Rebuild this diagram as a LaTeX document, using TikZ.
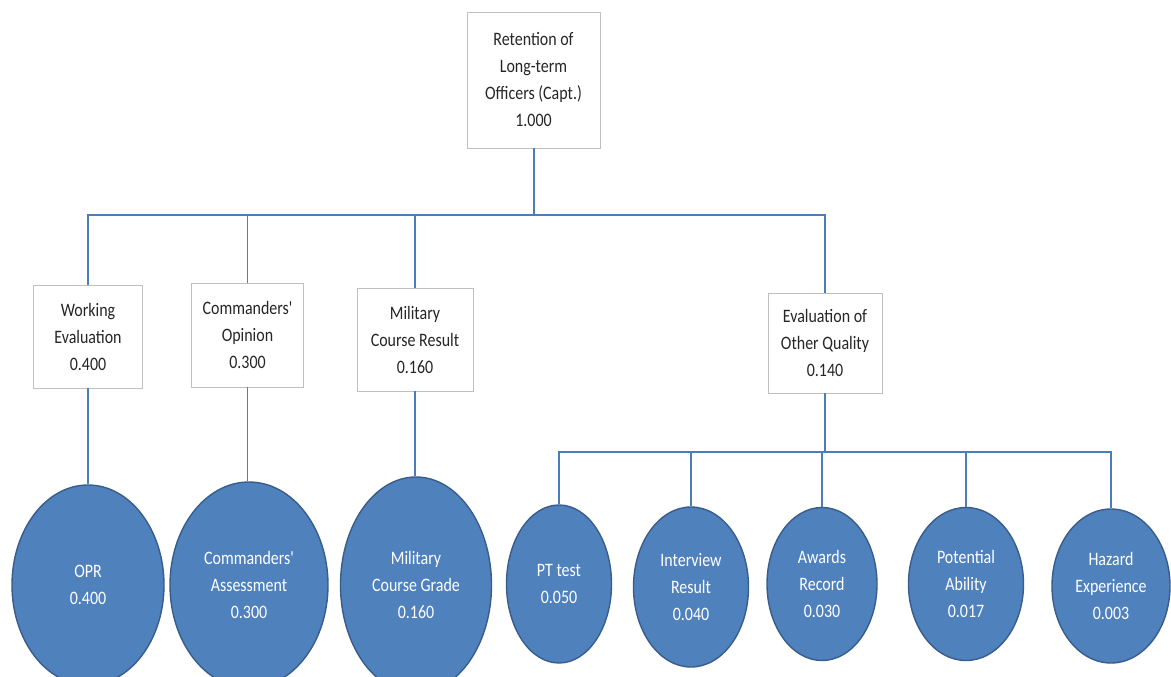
\documentclass[tikz,border=0pt]{standalone}
\usepackage{fontspec}
\setmainfont{Carlito}[FakeStretch=0.84, Ligatures=TeXOff]
\usetikzlibrary{shapes.geometric}
\definecolor{boxline}{HTML}{BFBFBF}
\definecolor{conn}{HTML}{4A7EBB}
\definecolor{cfill}{HTML}{4F81BD}
\definecolor{cline}{HTML}{385D8A}
\definecolor{txt}{HTML}{262626}
\tikzset{
  lbox/.style={draw=boxline, line width=0.9pt, fill=white, align=center, text=txt,
    font=\fontsize{19}{27}\selectfont, inner sep=0pt},
  bubble/.style={ellipse, draw=cline, line width=1.4pt, fill=cfill, align=center, text=white,
    font=\fontsize{19}{27}\selectfont, inner sep=0pt},
  bus/.style={draw=conn, line width=2pt},
  link/.style={draw=conn, line width=1.2pt}
}
\begin{document}
\begin{tikzpicture}[x=1pt,y=-1pt]
\useasboundingbox (0,0) rectangle (1171,677);
\clip (0,0) rectangle (1171,677);
\fill[white] (0,0) rectangle (1171,677);

% root
\node[lbox, minimum width=133pt, minimum height=136pt] (root) at (533.5,80) {Retention of\\Long-term\\Officers (Capt.)\\1.000};

% level 2
\node[lbox, minimum width=109pt, minimum height=103pt] (we) at (88,336.5) {Working\\Evaluation\\0.400};
\node[lbox, minimum width=112pt, minimum height=104pt] (co) at (247.5,335) {Commanders'\\Opinion\\0.300};
\node[lbox, minimum width=116pt, minimum height=103pt] (mc) at (415,339.5) {Military\\Course Result\\0.160};
\node[lbox, minimum width=114pt, minimum height=100pt] (eo) at (825,343) {Evaluation of\\Other Quality\\0.140};

% level 3
\node[bubble, minimum width=152pt, minimum height=200pt] (opr) at (88,585) {OPR\\0.400};
\node[bubble, minimum width=158pt, minimum height=206pt] (ca) at (249,585) {Commanders'\\Assessment\\0.300};
\node[bubble, minimum width=151pt, minimum height=216pt] (mcg) at (416,585) {Military\\Course Grade\\0.160};
\node[bubble, minimum width=105pt, minimum height=158pt] (pt) at (559,584) {PT test\\0.050};
\node[bubble, minimum width=115pt, minimum height=160pt] (ir) at (691,587) {Interview\\Result\\0.040};
\node[bubble, minimum width=110pt, minimum height=153pt] (ar) at (822,584) {Awards\\Record\\0.030};
\node[bubble, minimum width=115pt, minimum height=153pt] (pa) at (966,584) {Potential\\Ability\\0.017};
\node[bubble, minimum width=118pt, minimum height=154pt] (he) at (1111,586) {Hazard\\Experience\\0.003};

% connectors
\coordinate (bus1) at (533.5,215);
\coordinate (bus2) at (825,452);
\draw[bus] (root.south) -- (bus1);
\draw[bus] (we.north) |- (bus1);
\draw[bus] (eo.north) |- (bus1);
\draw[link] (co.north) -- (co.north |- bus1);
\draw[link] (mc.north) -- (mc.north |- bus1);

\draw[link] (we.south) -- (we.south |- opr.north);
\draw[link] (co.south) -- (co.south |- ca.north);
\draw[link] (mc.south) -- (mc.south |- mcg.north);

\draw[bus] (eo.south) -- (bus2);
\draw[bus] (pt.north) |- (bus2);
\draw[bus] (he.north) |- (bus2);
\draw[link] (ir.north) -- (ir.north |- bus2);
\draw[link] (ar.north) -- (ar.north |- bus2);
\draw[link] (pa.north) -- (pa.north |- bus2);
\end{tikzpicture}
\end{document}
